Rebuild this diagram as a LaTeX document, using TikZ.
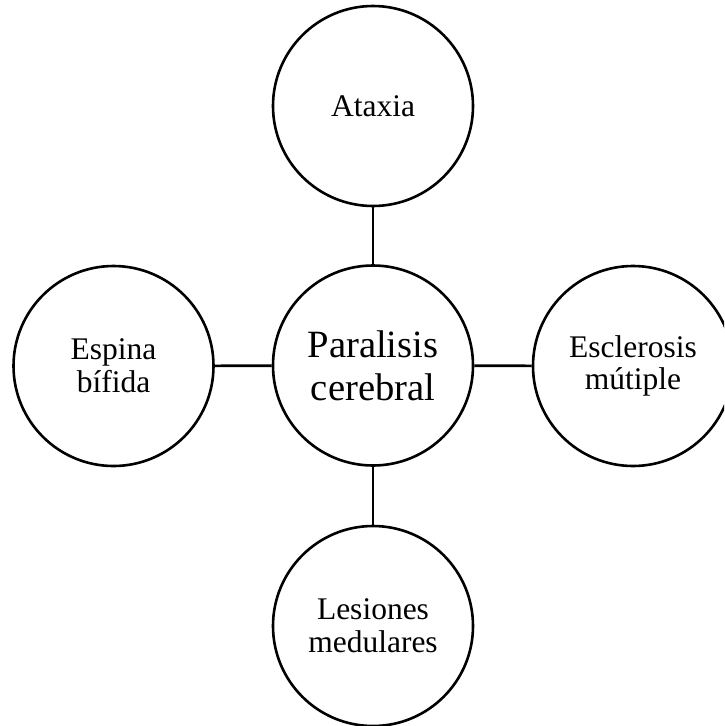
\documentclass[tikz,border=0pt]{standalone}
\usepackage{fontspec}
\setmainfont{Liberation Serif}
\begin{document}
\begin{tikzpicture}[x=1pt,y=-1pt,
  circ/.style={draw, circle, line width=2.6pt, minimum size=200pt, inner sep=0pt, align=center, font=\fontsize{31.5}{32.7}\selectfont},
  big/.style={font=\fontsize{38.6}{42.6}\selectfont},
  link/.style={line width=2.6pt}]
\useasboundingbox (0,0) rectangle (724,726);
\clip (0,0) rectangle (724,726);
\node[circ, big] (c) at (373,365.5) {Paralisis\\cerebral};
\node[circ] (t) at (373,106) {Ataxia};
\node[circ] (l) at (113.5,366) {Espina\\bífida};
\node[circ] (r) at (633,366) {Esclerosis\\mútiple};
\node[circ] (b) at (373,626) {Lesiones\\medulares};
\draw[link] (c) -- (t);
\draw[link] (c) -- (l);
\draw[link] (c) -- (r);
\draw[link] (c) -- (b);
\end{tikzpicture}
\end{document}
